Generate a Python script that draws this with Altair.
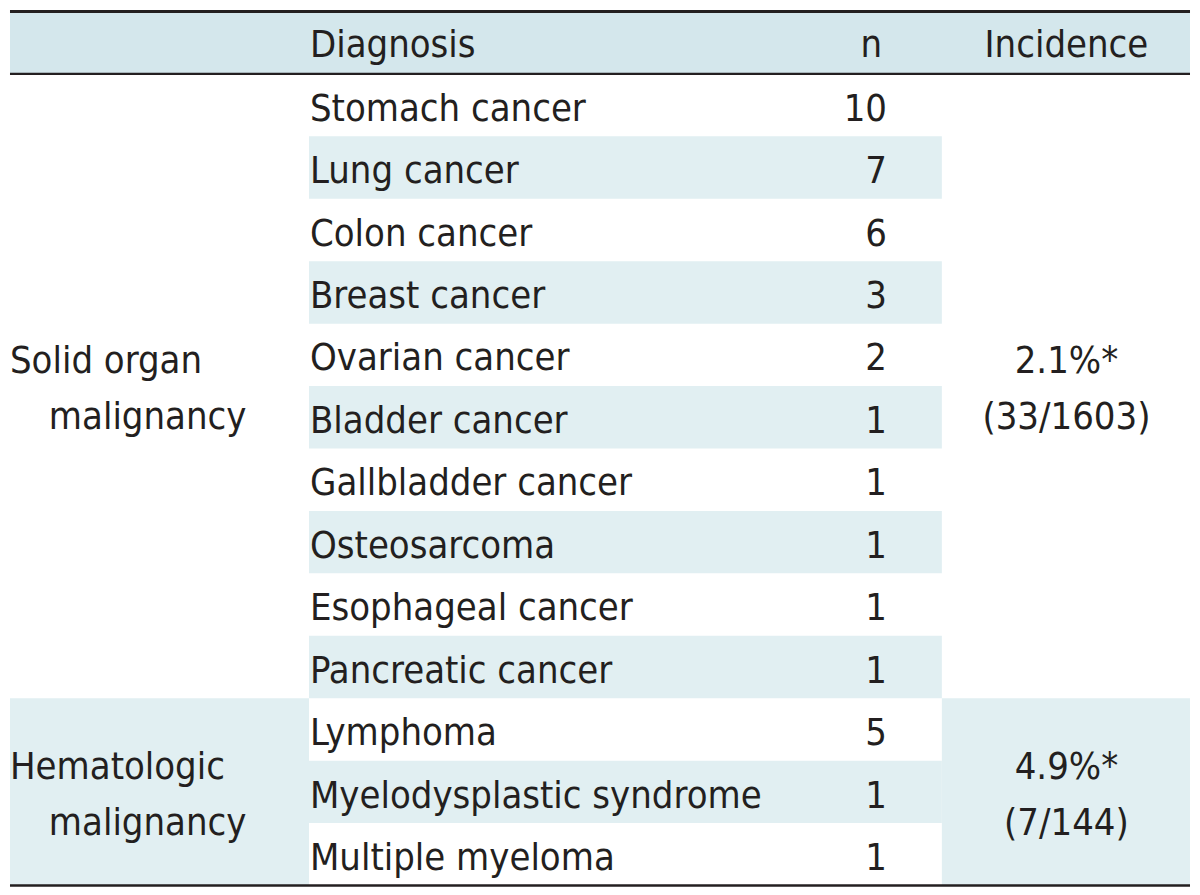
import altair as alt
import pandas as pd

# ---------------- data ----------------
headers = ["Diagnosis", "n", "Incidence"]
diagnoses = ["Stomach cancer", "Lung cancer", "Colon cancer", "Breast cancer",
             "Ovarian cancer", "Bladder cancer", "Gallbladder cancer", "Osteosarcoma",
             "Esophageal cancer", "Pancreatic cancer", "Lymphoma",
             "Myelodysplastic syndrome", "Multiple myeloma"]
counts = [10, 7, 6, 3, 2, 1, 1, 1, 1, 1, 5, 1, 1]
group_names = [["Solid organ", "malignancy"], ["Hematologic", "malignancy"]]
group_sizes = [10, 3]
incidence = [["2.1%*", "(33/1603)"], ["4.9%*", "(7/144)"]]

# ---------------- layout / style ----------------
W, H = 1184, 877
NROWS = 1 + len(diagnoses)
ROW_PX = H / NROWS
COL = [0, 300, 935, W]          # column edges
DIAG_X = 301                     # left edge of diagnosis text
N_X = 880                        # right edge of n text
INC_X = 1060                     # centre of incidence text
INDENT = 39                      # indent of 2nd line of group label
FONT = "DejaVu Sans Condensed"
FS = 38
TXT = "#231f20"
HEAD_BG = "#d4e7ec"
STRIPE = "#e1eff2"
BASE = 47 / ROW_PX               # baseline offset inside a row (rows)
L1 = -13 / ROW_PX                # first line baseline vs group centre
L2 = 43 / ROW_PX                 # second line baseline vs group centre

xs = alt.Scale(domain=[0, W], nice=False, zero=False)
ys = alt.Scale(domain=[0, NROWS], nice=False, zero=False, reverse=True)

# ---------------- background rects ----------------
rects = [dict(x=COL[0], x2=COL[3], y=0, y2=1, c=HEAD_BG)]
for i, d in enumerate(diagnoses):
    r = i + 1
    if r % 2 == 0:
        rects.append(dict(x=COL[1], x2=COL[2], y=r, y2=r + 1, c=STRIPE))
start = 1
group_spans = []
for gi, size in enumerate(group_sizes):
    group_spans.append((start, start + size))
    if gi % 2 == 1:
        rects.append(dict(x=COL[0], x2=COL[1], y=start, y2=start + size, c=STRIPE))
        rects.append(dict(x=COL[2], x2=COL[3], y=start, y2=start + size, c=STRIPE))
    start += size
rect_df = pd.DataFrame(rects)

rect_layer = alt.Chart(rect_df).mark_rect(strokeWidth=0).encode(
    x=alt.X("x:Q", scale=xs, axis=None),
    x2="x2:Q",
    y=alt.Y("y:Q", scale=ys, axis=None),
    y2="y2:Q",
    color=alt.Color("c:N", scale=None),
)

# ---------------- rules ----------------
rule_df = pd.DataFrame([
    dict(y=0, x=COL[0], x2=COL[3], sw=3.0),
    dict(y=1, x=COL[0], x2=COL[3], sw=2.2),
    dict(y=NROWS, x=COL[0], x2=COL[3], sw=2.6),
])
rule_layer = alt.Chart(rule_df).mark_rule(color=TXT).encode(
    x=alt.X("x:Q", scale=xs, axis=None),
    x2="x2:Q",
    y=alt.Y("y:Q", scale=ys, axis=None),
    strokeWidth=alt.StrokeWidth("sw:Q", scale=None),
)

# ---------------- texts ----------------
left, right, center = [], [], []
left.append(dict(t=headers[0], x=DIAG_X, y=0 + BASE - 1.5 / ROW_PX))
right.append(dict(t=headers[1], x=N_X - 5, y=0 + BASE - 1.5 / ROW_PX))
center.append(dict(t=headers[2], x=INC_X, y=0 + BASE - 1.5 / ROW_PX))
for i, (d, n) in enumerate(zip(diagnoses, counts)):
    r = i + 1
    left.append(dict(t=d, x=DIAG_X, y=r + BASE))
    right.append(dict(t=str(n), x=N_X, y=r + BASE))
for (s, e), names, inc in zip(group_spans, group_names, incidence):
    mid = (s + e) / 2
    left.append(dict(t=names[0], x=COL[0], y=mid + L1))
    left.append(dict(t=names[1], x=COL[0] + INDENT, y=mid + L2))
    center.append(dict(t=inc[0], x=INC_X, y=mid + L1))
    center.append(dict(t=inc[1], x=INC_X, y=mid + L2))


def text_layer(rows, align):
    return alt.Chart(pd.DataFrame(rows)).mark_text(
        align=align, baseline="alphabetic", font=FONT, fontSize=FS, color=TXT
    ).encode(
        x=alt.X("x:Q", scale=xs, axis=None),
        y=alt.Y("y:Q", scale=ys, axis=None),
        text="t:N",
    )


chart = alt.layer(
    rect_layer, rule_layer,
    text_layer(left, "left"), text_layer(right, "right"), text_layer(center, "center"),
).properties(
    width=W, height=H,
    padding={"left": 0, "top": 0, "right": 0, "bottom": 2},
).configure_view(stroke=None)

chart.save("out.html", embed_options={"renderer": "svg", "actions": False})
